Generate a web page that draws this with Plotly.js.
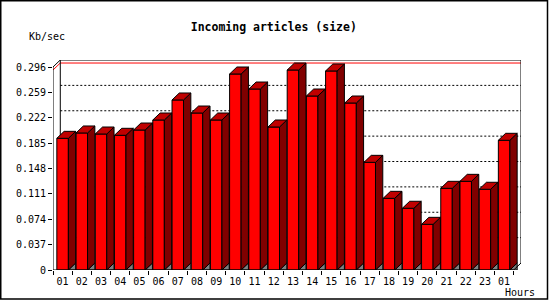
<!DOCTYPE html>
<html>
<head>
<meta charset="utf-8">
<script src="https://cdn.plot.ly/plotly-3.0.1.min.js"></script>
<style>html,body{margin:0;padding:0;background:#fff;}#chart{width:550px;height:300px;}</style>
</head>
<body>
<div id="chart"></div>
<script>
// ---- data ----
const hours = ['01','02','03','04','05','06','07','08','09','10','11','12',
               '13','14','15','16','17','18','19','20','21','22','23','01'];
const kbps = [0.1920, 0.1998, 0.1983, 0.1964, 0.2041, 0.2187, 0.2479, 0.2289,
              0.2187, 0.2858, 0.2639, 0.2085, 0.2916, 0.2537, 0.2902, 0.2435,
              0.1570, 0.1045, 0.0900, 0.0666, 0.1191, 0.1293, 0.1177, 0.1891];
const yTickVals = [0, 0.037, 0.074, 0.111, 0.148, 0.185, 0.222, 0.259, 0.296];
const yTickText = ['0', '0.037', '0.074', '0.111', '0.148', '0.185', '0.222', '0.259', '0.296'];

// ---- 3D geometry (style) ----
const DX = 0.38;      // depth offset in category units
const DY = 0.0102;    // depth offset in value units
const HW = 0.3;       // half bar width
const yMax = yTickVals[yTickVals.length - 1];
const xs = hours.map((_, i) => i);
const n = hours.length;

const ML = 53, MR = 29, MT = 60, MB = 30, W = 550, H = 300;
const PW = W - ML - MR, PH = H - MT - MB;
const px2x = p => (p - ML) / PW;
const py2y = p => (H - MB - p) / PH;

const mono = 'DejaVu Sans Mono, Liberation Mono, monospace';

// polygons for top faces, side faces and floor triangles
const topX = [], topY = [], sideX = [], sideY = [], flX = [], flY = [];
xs.forEach((x, i) => {
  const v = kbps[i];
  topX.push(x - HW, x + HW, x + HW + DX, x - HW + DX, x - HW, null);
  topY.push(v, v, v + DY, v + DY, v, null);
  sideX.push(x + HW, x + HW, x + HW + DX, x + HW + DX, x + HW, null);
  sideY.push(0, v, v + DY, DY, 0, null);
  flX.push(x + HW, x + HW + DX, x + HW + DX, x + HW, null);
  flY.push(0, DY, 0, 0, null);
});

const traces = [
  {type: 'bar', x: xs, y: kbps, width: 2 * HW,
   marker: {color: '#ff0000', line: {color: '#000', width: 1}},
   hoverinfo: 'skip', showlegend: false},
  {type: 'scatter', mode: 'lines', x: flX, y: flY, fill: 'toself', fillcolor: '#808080',
   line: {color: '#000', width: 1}, hoverinfo: 'skip', showlegend: false},
  {type: 'scatter', mode: 'lines', x: sideX, y: sideY, fill: 'toself', fillcolor: '#800000',
   line: {color: '#000', width: 1}, hoverinfo: 'skip', showlegend: false},
  {type: 'scatter', mode: 'lines', x: topX, y: topY, fill: 'toself', fillcolor: '#c00000',
   line: {color: '#000', width: 1}, hoverinfo: 'skip', showlegend: false}
];

const xL = -0.5, xR = n - 0.5;
const maxV = Math.max(...kbps);
const shapes = [];
// dotted grid on back wall
yTickVals.slice(1, -1).forEach(v => {
  shapes.push({type: 'line', layer: 'below', xref: 'x', yref: 'y',
    x0: xL + DX, x1: xR + DX, y0: v + DY, y1: v + DY,
    line: {color: '#000', width: 1, dash: '2px,2px'}});
});
// max line (red)
shapes.push({type: 'line', layer: 'below', xref: 'x', yref: 'y',
  x0: xL + DX, x1: xR + DX, y0: maxV + DY, y1: maxV + DY, line: {color: '#ff0000', width: 1}});
shapes.push({type: 'line', layer: 'below', xref: 'x', yref: 'y',
  x0: xL, x1: xL + DX, y0: maxV, y1: maxV + DY, line: {color: '#ff0000', width: 1}});
// back wall frame
const frame = [
  [xL + DX, DY, xL + DX, yMax + DY],
  [xL + DX, yMax + DY, xR + DX, yMax + DY],
  [xR + DX, yMax + DY, xR + DX, DY],
  [xL, yMax, xL + DX, yMax + DY]
];
frame.forEach(f => shapes.push({type: 'line', layer: 'below', xref: 'x', yref: 'y',
  x0: f[0], y0: f[1], x1: f[2], y1: f[3], line: {color: '#000', width: 1}}));
// front axes and right diagonal
[[xL, 0, xL, yMax], [xL, 0, xR, 0], [xR, 0, xR + DX, DY]].forEach(f =>
  shapes.push({type: 'line', layer: 'above', xref: 'x', yref: 'y',
    x0: f[0], y0: f[1], x1: f[2], y1: f[3], line: {color: '#000', width: 1}}));
// outer border
shapes.push({type: 'rect', xref: 'paper', yref: 'paper',
  x0: px2x(0.75), x1: px2x(547.5), y0: py2y(299), y1: py2y(0.75),
  line: {color: '#000', width: 1.5}, fillcolor: 'rgba(0,0,0,0)'});

const layout = {
  width: W, height: H,
  margin: {l: ML, r: MR, t: MT, b: MB, pad: 0},
  paper_bgcolor: '#fff', plot_bgcolor: '#fff',
  showlegend: false,
  bargap: 0,
  title: {text: 'Incoming articles (size)', font: {family: mono, size: 11.5, color: '#000', weight: 'bold'},
          x: 273.8 / W, xanchor: 'center', xref: 'container', y: 1 - 26.7 / H, yanchor: 'middle', yref: 'container'},
  xaxis: {range: [xL, xR + DX], showgrid: false, zeroline: false, showline: false,
          tickmode: 'array', tickvals: xs, ticktext: hours, ticks: '', ticklen: 0,
          ticklabelstandoff: 4,
          tickfont: {family: mono, size: 10, color: '#000'},
          minor: {tickmode: 'array', tickvals: xs.map(x => x - 0.5).concat([xR]), ticks: 'outside',
                  ticklen: 4, tickcolor: '#000', tickwidth: 1, showgrid: false},
          fixedrange: true},
  yaxis: {range: [0, yMax + DY], showgrid: false, zeroline: false, showline: false,
          tickmode: 'array', tickvals: yTickVals, ticktext: yTickText, ticks: 'outside',
          ticklen: 4, tickcolor: '#000', tickwidth: 1,
          tickfont: {family: mono, size: 10, color: '#000'}, fixedrange: true},
  shapes: shapes,
  annotations: [
    {text: 'Kb/sec', xref: 'paper', yref: 'paper', x: px2x(47), y: py2y(37),
     xanchor: 'center', yanchor: 'middle', showarrow: false, font: {family: mono, size: 10, color: '#000'}},
    {text: 'Hours', xref: 'paper', yref: 'paper', x: px2x(519.5), y: py2y(292.7),
     xanchor: 'center', yanchor: 'middle', showarrow: false, font: {family: mono, size: 10, color: '#000'}}
  ]
};

Plotly.newPlot('chart', traces, layout, {staticPlot: true, displayModeBar: false});
</script>
</body>
</html>
